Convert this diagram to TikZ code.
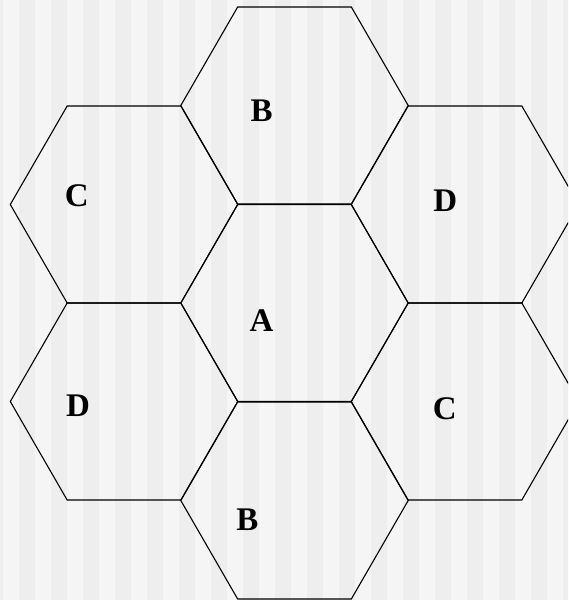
\documentclass[tikz,border=0pt]{standalone}
\usepackage{fontspec}
\setmainfont{Liberation Serif}
\definecolor{stripelight}{HTML}{F5F5F5}
\definecolor{stripedark}{HTML}{EEEEEE}
\begin{document}
\begin{tikzpicture}[x=1pt,y=-1pt,
  hexline/.style={draw=black,line width=1.1pt,line join=miter},
  lab/.style={font=\fontsize{33}{33}\selectfont\bfseries,inner sep=0pt,anchor=center}]
\useasboundingbox (0,0) rectangle (568,600);
\clip (0,0) rectangle (568,600);
\fill[stripelight] (0,0) rectangle (568,600);
\foreach \k in {-1,...,17} \fill[stripedark] ({19+32*\k},0) rectangle ({35+32*\k},600);
\foreach \cx/\cy in {294.5/303, 294.5/105.5, 294.5/500.5, 124/204.5, 124/401.5, 465/204.5, 465/401.5}
  \draw[hexline,shift={(\cx,\cy)}] (0:113.7) -- (60:113.7) -- (120:113.7) -- (180:113.7) -- (240:113.7) -- (300:113.7) -- cycle;
\node[lab] (a)  at (261.5,320.7) {A};
\node[lab] (bt) at (261.7,110.7) {B};
\node[lab] (bb) at (247.5,519.5) {B};
\node[lab] (cl) at (76.7,196) {C};
\node[lab] (cr) at (444.7,408.5) {C};
\node[lab] (dr) at (445.3,200.5) {D};
\node[lab] (dl) at (78,406) {D};
\end{tikzpicture}
\end{document}
